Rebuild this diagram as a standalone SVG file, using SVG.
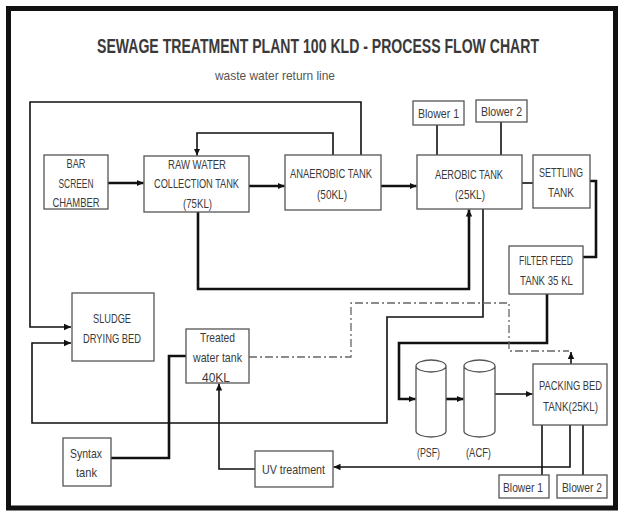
<svg xmlns="http://www.w3.org/2000/svg" width="619" height="511" viewBox="0 0 619 511">
<style>
.box{fill:#fff;stroke:#555;stroke-width:1.3}
.t{font-family:"Liberation Sans Narrow","Liberation Sans",Arial,sans-serif;font-size:13.5px;fill:#3a3a3a;text-anchor:middle}
.ln{fill:none;stroke:#111;stroke-width:1.6}
.th{fill:none;stroke:#111;stroke-width:2.6}
.dd{fill:none;stroke:#666;stroke-width:1.3;stroke-dasharray:8 3 2 3}
</style>
<defs>
<marker id="ah" markerUnits="userSpaceOnUse" markerWidth="8" markerHeight="8" refX="7" refY="4" orient="auto">
<path d="M0,0.8 L7,4 L0,7.2 Z" fill="#111"/>
</marker>
</defs>
<rect x="0" y="0" width="619" height="511" fill="#fff"/>
<rect x="8.5" y="8.5" width="607" height="499.5" fill="none" stroke="#111" stroke-width="5"/>
<text x="318" y="53" font-family="'Liberation Sans Narrow','Liberation Sans',Arial,sans-serif" font-size="21" font-weight="bold" fill="#3a3a3a" text-anchor="middle" textLength="442" lengthAdjust="spacingAndGlyphs">SEWAGE TREATMENT PLANT 100 KLD - PROCESS FLOW CHART</text>
<text x="275" y="80" class="t" style="fill:#555" textLength="120" lengthAdjust="spacingAndGlyphs">waste water return line</text>

<g id="connectors">
<path class="ln" d="M361 155 V102 H30 V327 H71" marker-end="url(#ah)"/>
<path class="ln" d="M333 155 V133 H197 V155.5" marker-end="url(#ah)"/>
<path class="th" d="M108 183 H143.5" marker-end="url(#ah)"/>
<path class="th" d="M249 186 H284.5" marker-end="url(#ah)"/>
<path class="th" d="M381 186 H416.5" marker-end="url(#ah)"/>
<path class="ln" d="M437 125 V155"/>
<path class="ln" d="M501 122 V155"/>
<path class="ln" d="M522 183 H533"/>
<path class="th" d="M590 181 H596 V257 H583"/>
<path class="th" d="M198 212 V289 H469 V209.5" marker-end="url(#ah)"/>
<path class="ln" d="M483 209 V317 H387 V423 H32 V343 H71" marker-end="url(#ah)"/>
<path class="th" d="M547 294 V343 H399 V399 H415.5" marker-end="url(#ah)"/>
<path class="th" d="M446 399 H463.5" marker-end="url(#ah)"/>
<path class="ln" d="M495 394 H532.5" marker-end="url(#ah)"/>
<path class="ln" d="M570 425 V467 H333.5" marker-end="url(#ah)"/>
<path class="ln" d="M255 469 H219 V383.5" marker-end="url(#ah)"/>
<path class="th" d="M111 458 H169 V356 H186"/>
<path class="dd" d="M249 357 H351 V303 H509 V351 H569"/>
<path class="ln" d="M571 364 V352" marker-end="url(#ah)"/>
<path class="ln" d="M542 425 V475"/>
<path class="ln" d="M583 425 V475"/>
</g>

<g id="bar-screen">
<rect class="box" x="44" y="155" width="64" height="54"/>
<text class="t" x="76" y="168" textLength="19" lengthAdjust="spacingAndGlyphs">BAR</text>
<text class="t" x="76" y="188" textLength="35" lengthAdjust="spacingAndGlyphs">SCREEN</text>
<text class="t" x="76" y="207" textLength="47" lengthAdjust="spacingAndGlyphs">CHAMBER</text>
</g>
<g id="raw-water">
<rect class="box" x="144" y="156" width="105" height="56"/>
<text class="t" x="197" y="169" textLength="58" lengthAdjust="spacingAndGlyphs">RAW WATER</text>
<text class="t" x="196.5" y="188" textLength="85" lengthAdjust="spacingAndGlyphs">COLLECTION TANK</text>
<text class="t" x="197.5" y="208" textLength="29" lengthAdjust="spacingAndGlyphs">(75KL)</text>
</g>
<g id="anaerobic">
<rect class="box" x="285" y="155" width="96" height="55"/>
<text class="t" x="331" y="178" textLength="82" lengthAdjust="spacingAndGlyphs">ANAEROBIC TANK</text>
<text class="t" x="332" y="199" textLength="30" lengthAdjust="spacingAndGlyphs">(50KL)</text>
</g>
<g id="aerobic">
<rect class="box" x="417" y="155" width="105" height="54"/>
<text class="t" x="469" y="179" textLength="68" lengthAdjust="spacingAndGlyphs">AEROBIC TANK</text>
<text class="t" x="470" y="199" textLength="30" lengthAdjust="spacingAndGlyphs">(25KL)</text>
</g>
<g id="blower1-top">
<rect class="box" x="413" y="101" width="51" height="24"/>
<text class="t" x="438.5" y="118" textLength="41" lengthAdjust="spacingAndGlyphs">Blower 1</text>
</g>
<g id="blower2-top">
<rect class="box" x="476" y="100" width="51" height="22"/>
<text class="t" x="501.5" y="116" textLength="41" lengthAdjust="spacingAndGlyphs">Blower 2</text>
</g>
<g id="settling">
<rect class="box" x="533" y="155" width="57" height="53"/>
<text class="t" x="561" y="177" textLength="44" lengthAdjust="spacingAndGlyphs">SETTLING</text>
<text class="t" x="561" y="197" textLength="26" lengthAdjust="spacingAndGlyphs">TANK</text>
</g>
<g id="filter-feed">
<rect class="box" x="509" y="246" width="74" height="48"/>
<text class="t" x="546" y="265" textLength="54" lengthAdjust="spacingAndGlyphs">FILTER FEED</text>
<text class="t" x="546.5" y="285" textLength="53" lengthAdjust="spacingAndGlyphs">TANK 35 KL</text>
</g>
<g id="sludge">
<rect class="box" x="72" y="293" width="82" height="68"/>
<text class="t" x="112" y="323" textLength="38" lengthAdjust="spacingAndGlyphs">SLUDGE</text>
<text class="t" x="112" y="343" textLength="58" lengthAdjust="spacingAndGlyphs">DRYING BED</text>
</g>
<g id="treated">
<rect class="box" x="186" y="329" width="63" height="54"/>
<text class="t" x="217.5" y="342" textLength="35" lengthAdjust="spacingAndGlyphs">Treated</text>
<text class="t" x="217.5" y="362" textLength="49" lengthAdjust="spacingAndGlyphs">water tank</text>
<text class="t" x="216" y="382" textLength="28" lengthAdjust="spacingAndGlyphs">40KL</text>
</g>
<g id="syntax">
<rect class="box" x="63" y="438" width="48" height="48"/>
<text class="t" x="86" y="458" textLength="32" lengthAdjust="spacingAndGlyphs">Syntax</text>
<text class="t" x="86.5" y="477" textLength="21" lengthAdjust="spacingAndGlyphs">tank</text>
</g>
<g id="uv">
<rect class="box" x="255" y="451" width="78" height="36"/>
<text class="t" x="293.5" y="474" textLength="63" lengthAdjust="spacingAndGlyphs">UV treatment</text>
</g>
<g id="psf">
<path class="box" d="M416 366 A15 6 0 0 1 446 366 V431 A15 6 0 0 1 416 431 Z M416 366 A15 6 0 0 0 446 366"/>
<text class="t" x="428.5" y="457" textLength="23" lengthAdjust="spacingAndGlyphs">(PSF)</text>
</g>
<g id="acf">
<path class="box" d="M464 366 A15.5 6 0 0 1 495 366 V431 A15.5 6 0 0 1 464 431 Z M464 366 A15.5 6 0 0 0 495 366"/>
<text class="t" x="478.5" y="457" textLength="25" lengthAdjust="spacingAndGlyphs">(ACF)</text>
</g>
<g id="packing-bed">
<rect class="box" x="533" y="364" width="74" height="61"/>
<text class="t" x="570.5" y="390" textLength="63" lengthAdjust="spacingAndGlyphs">PACKING BED</text>
<text class="t" x="570.5" y="411" textLength="55" lengthAdjust="spacingAndGlyphs">TANK(25KL)</text>
</g>
<g id="blower1-bottom">
<rect class="box" x="499" y="475" width="50" height="23"/>
<text class="t" x="523" y="492" textLength="40" lengthAdjust="spacingAndGlyphs">Blower 1</text>
</g>
<g id="blower2-bottom">
<rect class="box" x="557" y="475" width="50" height="23"/>
<text class="t" x="582" y="492" textLength="40" lengthAdjust="spacingAndGlyphs">Blower 2</text>
</g>
</svg>
